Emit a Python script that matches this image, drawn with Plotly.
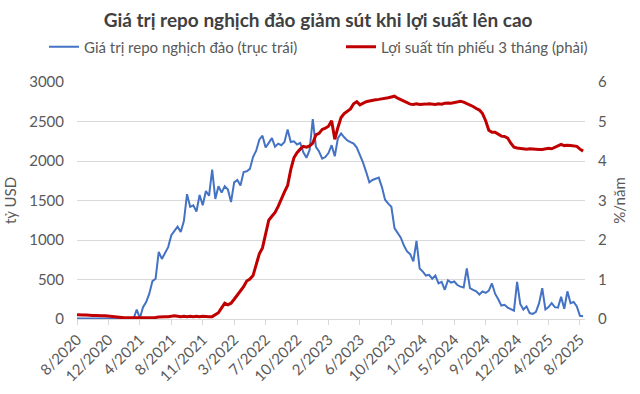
import plotly.graph_objects as go

# tick labels (category axis, one label every 10 samples)
tick_labels = ["8/2020", "12/2020", "4/2021", "8/2021", "11/2021", "3/2022", "7/2022",
               "10/2022", "2/2023", "6/2023", "10/2023", "1/2024", "5/2024", "9/2024",
               "12/2024", "4/2025", "8/2025"]
samples_per_tick = 10

# Reverse repo value (bn USD), left axis
repo = [5, 5, 5, 5, 5, 5, 5, 5, 5, 5,
        5, 5, 5, 5, 5, 5, 5, 5, 5, 120,
        10, 150, 215, 320, 480, 510, 850, 760, 830, 910,
        1060, 1110, 1170, 1100, 1240, 1580, 1420, 1440, 1360, 1570,
        1440, 1620, 1560, 1890, 1520, 1680, 1600, 1680, 1640, 1480,
        1730, 1760, 1690, 1860, 1870, 1900, 2050, 2130, 2270, 2320,
        2170, 2230, 2290, 2180, 2220, 2200, 2240, 2400, 2240, 2250,
        2210, 2230, 2110, 2040, 2140, 2530, 2180, 2120, 2030, 2050,
        2100, 2200, 2060, 2290, 2350, 2300, 2260, 2240, 2220, 2170,
        2080, 1980, 1860, 1730, 1760, 1780, 1790, 1670, 1510, 1460,
        1420, 1150, 1090, 1030, 930, 855, 820, 730, 990, 640,
        600, 550, 560, 510, 550, 450, 470, 370, 490, 460,
        475, 430, 410, 400, 640, 390, 370, 350, 310, 350,
        330, 360, 450, 320, 250, 170, 180, 145, 125, 105,
        470, 190, 120, 160, 75, 65, 90, 200, 390, 120,
        150, 200, 150, 145, 280, 130, 350, 200, 215, 160,
        40, 35]

# 3-month bill yield (%/year), right axis
yield3m = [0.11, 0.10, 0.10, 0.10, 0.09, 0.09, 0.09, 0.08, 0.08, 0.08,
           0.07, 0.07, 0.06, 0.05, 0.04, 0.03, 0.03, 0.03, 0.03, 0.03,
           0.03, 0.03, 0.03, 0.03, 0.03, 0.04, 0.05, 0.06, 0.06, 0.06,
           0.07, 0.08, 0.07, 0.06, 0.07, 0.06, 0.07, 0.06, 0.07, 0.06,
           0.07, 0.06, 0.06, 0.06, 0.10, 0.16, 0.28, 0.40, 0.36, 0.40,
           0.50, 0.60, 0.70, 0.82, 0.96, 1.01, 1.10, 1.35, 1.65, 1.80,
           2.12, 2.50, 2.60, 2.70, 2.85, 3.05, 3.22, 3.38, 3.78, 4.08,
           4.21, 4.30, 4.37, 4.35, 4.38, 4.45, 4.66, 4.70, 4.80, 4.83,
           4.88, 5.02, 4.55, 4.85, 5.10, 5.20, 5.25, 5.32, 5.45, 5.50,
           5.42, 5.47, 5.50, 5.52, 5.54, 5.55, 5.56, 5.57, 5.58, 5.60,
           5.62, 5.64, 5.59, 5.55, 5.51, 5.47, 5.44, 5.43, 5.45, 5.43,
           5.43, 5.44, 5.45, 5.44, 5.43, 5.45, 5.44, 5.46, 5.47, 5.46,
           5.48, 5.50, 5.51, 5.49, 5.46, 5.43, 5.38, 5.33, 5.29, 5.20,
           5.02, 4.78, 4.73, 4.73, 4.67, 4.63, 4.62, 4.58, 4.45, 4.35,
           4.33, 4.32, 4.31, 4.30, 4.31, 4.30, 4.30, 4.29, 4.29, 4.31,
           4.32, 4.31, 4.34, 4.38, 4.42, 4.39, 4.40, 4.39, 4.38, 4.37,
           4.30, 4.25]

x_idx = list(range(len(repo)))
tickvals = [i * samples_per_tick for i in range(len(tick_labels))]

FONT = "Lato"
TXT = "#595959"
FS = 15
W, H = 640, 394

fig = go.Figure()
fig.add_trace(go.Scatter(x=x_idx, y=repo, mode="lines", legend="legend",
                         name="Giá trị repo nghịch đảo (trục trái)",
                         line=dict(color="#4472C4", width=2)))
fig.add_trace(go.Scatter(x=x_idx, y=yield3m, mode="lines", yaxis="y2", legend="legend2",
                         name="Lợi suất tín phiếu 3 tháng (phải)",
                         line=dict(color="#C00000", width=3)))

leg_common = dict(orientation="h", xref="container", yref="container",
                  xanchor="left", yanchor="middle", y=1 - 47 / H,
                  font=dict(family=FONT, size=FS, color=TXT),
                  bgcolor="rgba(0,0,0,0)", borderwidth=0)

fig.update_layout(
    width=W, height=H,
    margin=dict(l=77, r=55, t=82, b=75, autoexpand=False),
    paper_bgcolor="white", plot_bgcolor="white",
    font=dict(family=FONT, size=FS, color=TXT),
    title=dict(text="<b>Giá trị repo nghịch đảo giảm sút khi lợi suất lên cao</b>",
               x=0.497, xanchor="center", y=1 - 20 / H, yanchor="middle",
               font=dict(family=FONT, size=19, color="#404040")),
    legend=dict(x=44 / W, **leg_common),
    legend2=dict(x=341 / W, **leg_common),
    showlegend=True,
    xaxis=dict(range=[0, 161.6], tickmode="array", tickvals=tickvals,
               ticktext=tick_labels, tickangle=-45, showgrid=False,
               showline=True, linecolor="#D9D9D9", linewidth=1,
               ticks="outside", ticklen=5, tickcolor="#D9D9D9",
               tickfont=dict(size=FS, color=TXT), zeroline=False),
    yaxis=dict(range=[0, 3000], dtick=500, showgrid=True, gridcolor="#D9D9D9",
               gridwidth=1, zeroline=False, showline=False,
               ticklabelstandoff=12,
               title=dict(text="tỷ USD", font=dict(size=FS, color=TXT), standoff=8),
               tickfont=dict(size=FS, color=TXT)),
    yaxis2=dict(range=[0, 6], dtick=1, overlaying="y", side="right",
                showgrid=False, zeroline=False, showline=False,
                ticklabelstandoff=12,
                title=dict(text="%/năm", font=dict(size=FS, color=TXT), standoff=8),
                tickfont=dict(size=FS, color=TXT)),
)

fig.write_html("out.html", config={"displayModeBar": False},
               post_script="document.body.style.margin='0';document.body.style.overflow='hidden';")
